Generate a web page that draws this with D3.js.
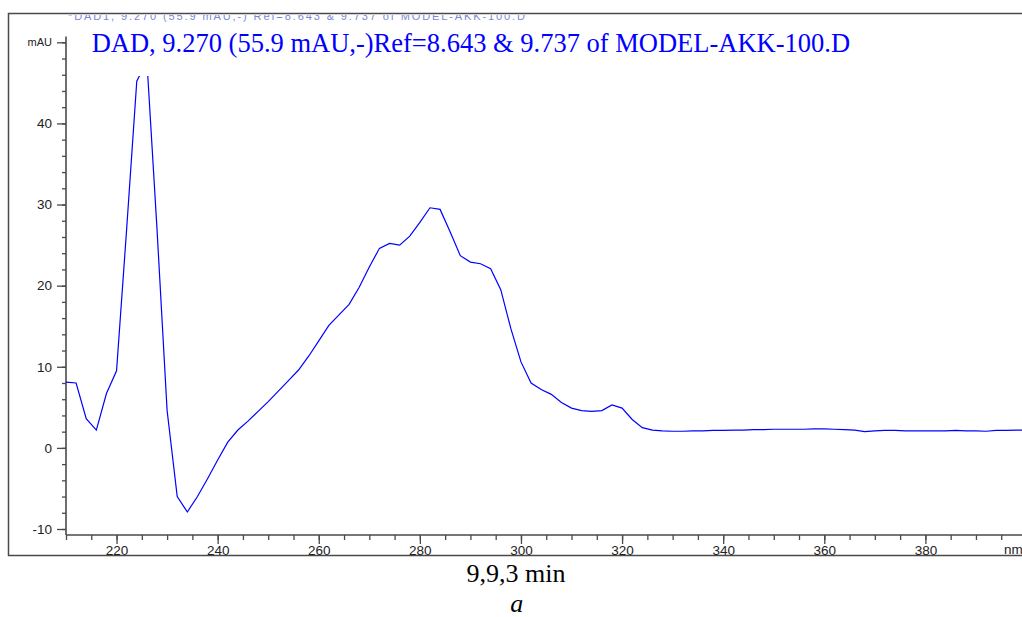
<!DOCTYPE html>
<html>
<head>
<meta charset="utf-8">
<script src="https://cdn.jsdelivr.net/npm/d3@7"></script>
<style>
  body { margin: 0; background: #fff; }
  svg { display: block; }
</style>
</head>
<body>
<script>
'use strict'

var w = 1022;
var h = 617;

// spectrum, 2 nm steps
var wavelengths = [210, 212, 214, 216, 218, 220, 222, 224, 226, 228, 230, 232, 234, 236, 238, 240,
  242, 244, 246, 248, 250, 252, 254, 256, 258, 260, 262, 264, 266, 268, 270, 272,
  274, 276, 278, 280, 282, 284, 286, 288, 290, 292, 294, 296, 298, 300, 302, 304,
  306, 308, 310, 312, 314, 316, 318, 320, 322, 324, 326, 328, 330, 332, 334, 336,
  338, 340, 342, 344, 346, 348, 350, 352, 354, 356, 358, 360, 362, 364, 366, 368,
  370, 372, 374, 376, 378, 380, 382, 384, 386, 388, 390, 392, 394, 396, 398, 400];
var absorbance = [8.1, 8.0, 3.6, 2.2, 6.7, 9.5, 27, 45.2, 47.7, 27, 4.6, -6.0, -7.9, -6.0, -3.8, -1.5,
  0.7, 2.2, 3.3, 4.5, 5.7, 7.0, 8.3, 9.6, 11.3, 13.2, 15.1, 16.4, 17.7, 19.8, 22.3, 24.6,
  25.2, 25.0, 26.1, 27.8, 29.6, 29.4, 26.6, 23.7, 22.9, 22.7, 22.1, 19.5, 14.7, 10.6, 8.0, 7.2,
  6.6, 5.6, 4.9, 4.6, 4.5, 4.6, 5.3, 4.9, 3.5, 2.5, 2.2, 2.1, 2.05, 2.05, 2.1, 2.1,
  2.15, 2.15, 2.2, 2.2, 2.25, 2.25, 2.3, 2.3, 2.3, 2.3, 2.35, 2.35, 2.3, 2.25, 2.2, 2.0,
  2.1, 2.15, 2.15, 2.1, 2.1, 2.1, 2.1, 2.1, 2.15, 2.1, 2.1, 2.05, 2.15, 2.15, 2.2, 2.2];

var xMajor = [220, 240, 260, 280, 300, 320, 340, 360, 380, 400];
var yMajor = [-10, 0, 10, 20, 30, 40, 50];

var title = "DAD, 9.270 (55.9 mAU,-)Ref=8.643 & 9.737 of MODEL-AKK-100.D";
var ghostTitle = "*DAD1, 9.270 (55.9 mAU,-) Ref=8.643 & 9.737 of MODEL-AKK-100.D";
var xUnit = "nm";
var caption = "9,9,3 min";
var subCaption = "a";

var x = d3.scaleLinear().domain([210, 400]).range([66, 1026.5]);
var y = d3.scaleLinear().domain([-10, 50]).range([529, 42.3]);
var axisY = 535;

var svg = d3.select("body")
  .append("svg")
  .attr("width", w)
  .attr("height", h);

//outer frame
svg.append("rect")
  .attr("x", 8.5)
  .attr("y", 13.5)
  .attr("width", 1100)
  .attr("height", 542)
  .attr("fill", "none")
  .attr("stroke", "#4a4a4a")
  .attr("stroke-width", 1.5);

//faint header, cut by the frame
svg.append("clipPath").attr("id", "ghost")
  .append("rect").attr("x", 0).attr("y", 15).attr("width", w).attr("height", 10);
svg.append("text")
  .attr("clip-path", "url(#ghost)")
  .attr("x", 68)
  .attr("y", 19.5)
  .attr("textLength", 457)
  .style("font-family", "Liberation Sans, Arial, sans-serif")
  .style("font-size", "11px")
  .style("fill", "#7a86d8")
  .text(ghostTitle);

//y axis
var yMinor = svg.append("g")
  .attr("transform", "translate(" + x(210) + ",0)")
  .call(d3.axisLeft(y).tickValues(d3.range(-10, 51, 2)).tickSize(4).tickFormat(""));
var yAx = svg.append("g")
  .attr("transform", "translate(" + x(210) + ",0)")
  .call(d3.axisLeft(y).tickValues(yMajor).tickSize(9).tickPadding(5)
    .tickFormat(function(d) { return d === 50 ? "mAU" : d; }));

//x axis
var xMinor = svg.append("g")
  .attr("transform", "translate(0," + axisY + ")")
  .call(d3.axisBottom(x).tickValues(d3.range(210, 401, 5)).tickSize(5).tickFormat(""));
var xAx = svg.append("g")
  .attr("transform", "translate(0," + axisY + ")")
  .call(d3.axisBottom(x).tickValues(xMajor).tickSize(9).tickPadding(1)
    .tickFormat(function(d) { return d === 400 ? "" : d; }));

[yMinor, yAx, xMinor, xAx].forEach(function(g) {
  g.select(".domain").remove();
  g.selectAll("line").attr("stroke", "#4a4a4a").attr("stroke-width", 1.3);
  g.selectAll("text")
    .style("font-family", "Liberation Sans, Arial, sans-serif")
    .style("font-size", "13.5px")
    .style("fill", "#222");
});
yAx.selectAll("text").filter(function(d) { return d === 50; }).style("font-size", "11px");

//unit at the right end of the x axis
svg.append("text")
  .attr("x", 1004)
  .attr("y", axisY + 19.3)
  .style("font-family", "Liberation Sans, Arial, sans-serif")
  .style("font-size", "13.5px")
  .style("fill", "#222")
  .text(xUnit);

//axis lines
svg.append("line")
  .attr("x1", x(210)).attr("x2", x(210))
  .attr("y1", y(50.7)).attr("y2", axisY)
  .attr("stroke", "#4a4a4a").attr("stroke-width", 1.6);
svg.append("line")
  .attr("x1", x(210)).attr("x2", w + 5)
  .attr("y1", axisY).attr("y2", axisY)
  .attr("stroke", "#4a4a4a").attr("stroke-width", 1.6);

//spectrum, clipped below the title band
svg.append("clipPath").attr("id", "plot")
  .append("rect").attr("x", x(210)).attr("y", 76).attr("width", w).attr("height", axisY - 76);

var line = d3.line()
  .x(function(d, i) { return x(wavelengths[i]); })
  .y(function(d) { return y(d); });

svg.append("path")
  .datum(absorbance)
  .attr("clip-path", "url(#plot)")
  .attr("d", line)
  .attr("fill", "none")
  .attr("stroke", "#0000ff")
  .attr("stroke-width", 1.2);

//title
svg.append("text")
  .attr("x", 91.7)
  .attr("y", 51.7)
  .style("font-family", "Liberation Serif, Times New Roman, serif")
  .style("font-size", "26.5px")
  .style("fill", "#0000ff")
  .text(title);

//captions under the frame
svg.append("text")
  .attr("x", 516)
  .attr("y", 581.7)
  .attr("text-anchor", "middle")
  .style("font-family", "Liberation Serif, Times New Roman, serif")
  .style("font-size", "26px")
  .style("fill", "#000")
  .text(caption);
svg.append("text")
  .attr("x", 516.7)
  .attr("y", 611.7)
  .attr("text-anchor", "middle")
  .style("font-family", "Liberation Serif, Times New Roman, serif")
  .style("font-size", "26px")
  .style("font-style", "italic")
  .style("fill", "#000")
  .text(subCaption);
</script>
</body>
</html>
